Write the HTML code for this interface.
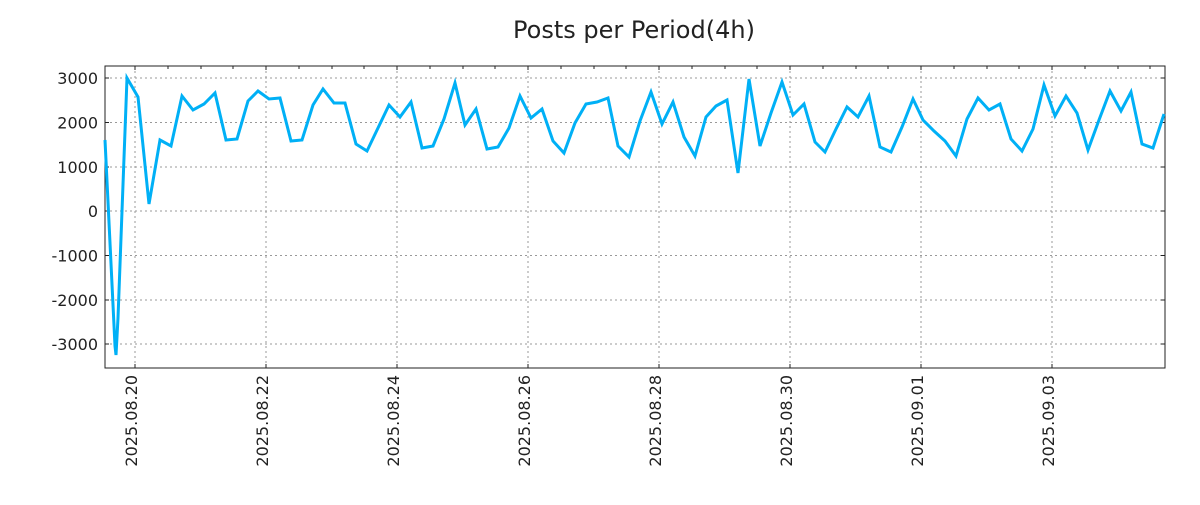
<!DOCTYPE html>
<html><head><meta charset="utf-8"><style>body{margin:0;background:#fff}</style></head><body>
<svg width="1200" height="500" xmlns="http://www.w3.org/2000/svg" font-family="DejaVu Sans, sans-serif">
<rect width="1200" height="500" fill="#fff"/>
<text x="634" y="38" font-size="24" text-anchor="middle" fill="#222">Posts per Period(4h)</text>
<g stroke="#999" stroke-dasharray="2,3" stroke-width="1">
<line x1="105" x2="1165" y1="78" y2="78"/><line x1="105" x2="1165" y1="122.5" y2="122.5"/><line x1="105" x2="1165" y1="167" y2="167"/><line x1="105" x2="1165" y1="211" y2="211"/><line x1="105" x2="1165" y1="255.5" y2="255.5"/><line x1="105" x2="1165" y1="300" y2="300"/><line x1="105" x2="1165" y1="344" y2="344"/>
<line y1="66" y2="368" x1="135" x2="135"/><line y1="66" y2="368" x1="266" x2="266"/><line y1="66" y2="368" x1="397" x2="397"/><line y1="66" y2="368" x1="528" x2="528"/><line y1="66" y2="368" x1="659" x2="659"/><line y1="66" y2="368" x1="790" x2="790"/><line y1="66" y2="368" x1="921" x2="921"/><line y1="66" y2="368" x1="1052" x2="1052"/>
</g>
<g stroke="#222" stroke-width="1">
<path d="M135 66v4M266 66v4M397 66v4M528 66v4M659 66v4M790 66v4M921 66v4M1052 66v4M135 368v-4M266 368v-4M397 368v-4M528 368v-4M659 368v-4M790 368v-4M921 368v-4M1052 368v-4"/>
<path d="M168 66v3M201 66v3M233 66v3M299 66v3M332 66v3M364 66v3M430 66v3M463 66v3M495 66v3M561 66v3M594 66v3M626 66v3M692 66v3M725 66v3M757 66v3M823 66v3M856 66v3M888 66v3M954 66v3M987 66v3M1019 66v3M1085 66v3M1118 66v3M1150 66v3"/>
<path d="M105 78h4M105 122.5h4M105 167h4M105 211h4M105 255.5h4M105 300h4M105 344h4M1165 78h-4M1165 122.5h-4M1165 167h-4M1165 211h-4M1165 255.5h-4M1165 300h-4M1165 344h-4"/>
</g>
<rect x="105" y="66" width="1060" height="302" fill="none" stroke="#222" stroke-width="1"/>
<g font-size="16" fill="#222" text-anchor="end">
<text x="98" y="84">3000</text><text x="98" y="128.5">2000</text><text x="98" y="173">1000</text><text x="98" y="217">0</text><text x="98" y="261.5">-1000</text><text x="98" y="306">-2000</text><text x="98" y="350">-3000</text>
</g>
<g font-size="16" fill="#222" text-anchor="end">
<text transform="translate(137,375) rotate(-90)">2025.08.20</text>
<text transform="translate(268,375) rotate(-90)">2025.08.22</text>
<text transform="translate(399,375) rotate(-90)">2025.08.24</text>
<text transform="translate(530,375) rotate(-90)">2025.08.26</text>
<text transform="translate(661,375) rotate(-90)">2025.08.28</text>
<text transform="translate(792,375) rotate(-90)">2025.08.30</text>
<text transform="translate(923,375) rotate(-90)">2025.09.01</text>
<text transform="translate(1054,375) rotate(-90)">2025.09.03</text>
</g>
<polyline fill="none" stroke="#00b0f6" stroke-width="3" stroke-linejoin="miter" points="105,140 115,346 116,355 118,318 127,78 138,97 149,204 160,140 171,146 182,96 193,110 204,104 215,93 226,140 237,139 248,101 258,91 269,99 280,98 291,141 302,140 313,105 323,89 334,103 345,103 356,144 367,151 378,128 389,105 400,117 411,102 422,148 433,146 444,119 455,83 465,125 476,109 487,149 498,147 509,128 520,96 531,118 542,109 553,141 564,153 575,123 586,104 597,102 608,98 618,146 629,157 640,121 651,92 662,124 673,102 684,137 695,156 706,117 716,106 727,100 738,173 749,79 760,146 771,113 782,82 793,115 804,104 815,142 825,152 836,129 847,107 858,117 869,96 880,147 891,152 902,127 913,99 923,120 934,131 945,141 956,156 967,119 978,98 989,110 1000,104 1011,139 1022,151 1033,129 1044,85 1055,116 1066,96 1077,113 1088,150 1099,120 1110,91 1121,111 1131,92 1142,144 1153,148 1164,114"/>
</svg>
</body></html>
